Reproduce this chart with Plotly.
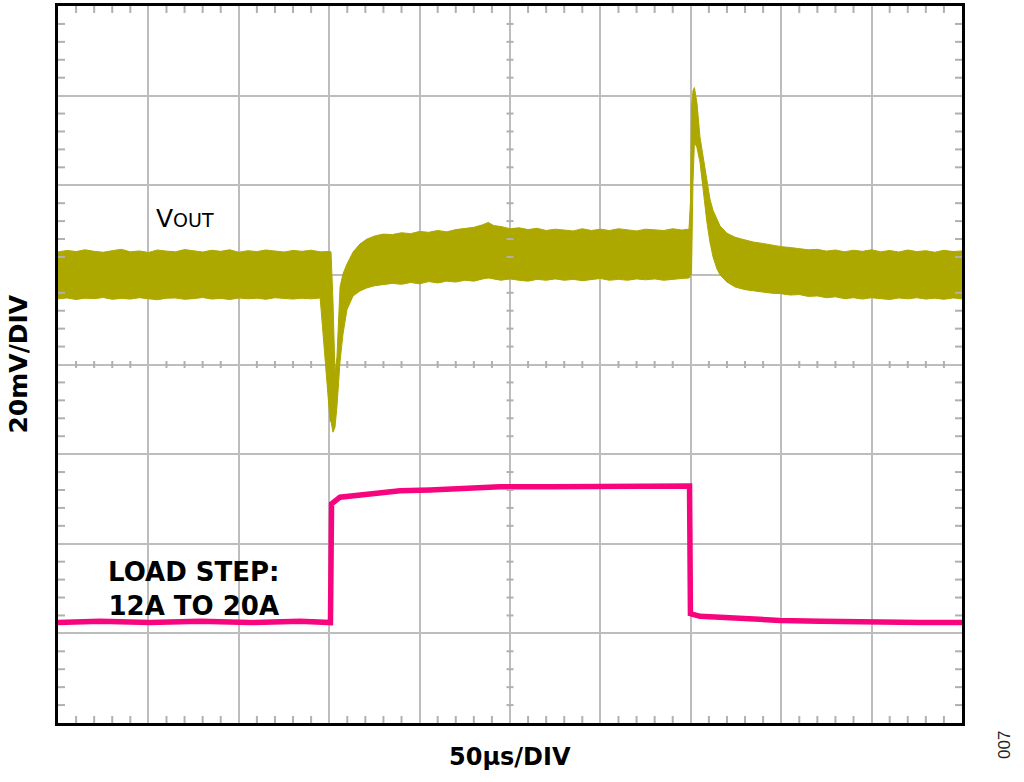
import plotly.graph_objects as go

# ---- data (time in µs, screen values in mV-equivalent; 20 mV/div, 50 µs/div) ----
time_us = [0, 5, 10, 15, 20, 25, 30, 35, 40, 45, 50, 55, 60, 65, 70, 75, 80, 85, 90, 95,
           100, 105, 110, 115, 120, 125, 130, 135, 140, 145, 150.5,
           151.0, 152.1, 153.2, 154.3, 156.0, 157.6, 159.8, 163.2, 167.0, 170.9, 175.3,
           180, 185, 190, 195, 200, 205, 210, 215, 220, 225, 230, 235, 238, 241, 245,
           250, 255, 260, 265, 270, 275, 280, 285, 290, 295, 300, 305, 310, 315, 320,
           325, 330, 335, 340, 345, 349.0, 349.8, 350.4, 351.2, 352.0, 353.4, 355.1,
           356.7, 358.9, 360.6, 362.3, 364.5, 366.2, 370.0, 374.5, 380, 385, 390, 395,
           400, 405, 410, 415, 420, 425, 430, 435, 440, 445, 450, 455, 460, 465, 470,
           475, 480, 485, 490, 495, 500]
vout_upper = [25.1, 25.45, 25.2, 25.6, 25.25, 25.05, 25.4, 25.7, 25.15, 25.35, 25.0, 25.55,
              25.3, 25.15, 25.65, 25.35, 25.1, 25.5, 25.25, 25.6, 25.05, 25.4, 25.2, 25.55,
              25.3, 25.1, 25.45, 25.25, 25.5, 25.15, 25.2,
              25.1, 14.0, -2.0, 1.8, 17.3, 20.2, 22.4, 25.1, 26.9, 28.0, 28.7,
              29.1, 29.0, 29.4, 29.2, 29.7, 29.5, 29.9, 29.6, 30.1, 30.3, 30.6, 31.2, 31.7,
              31.0, 30.8, 30.3, 30.5, 30.1, 30.4, 29.9, 30.2, 30.0, 29.8, 30.3, 29.9, 30.2,
              29.9, 30.3, 30.0, 29.8, 30.2, 30.1, 29.9, 30.3, 30.0, 30.2, 36.2, 57.3, 61.1,
              61.8, 58.4, 50.7, 46.9, 40.7, 36.9, 34.4, 32.2, 30.9, 29.3, 28.4, 27.8, 27.3,
              27.0, 26.6, 26.3, 26.1, 25.9, 25.6, 25.7, 25.3, 25.55, 25.15, 25.5, 25.25,
              25.6, 25.15, 25.45, 25.1, 25.55, 25.2, 25.4, 25.05, 25.5, 25.2, 25.35]
vout_lower = [14.65, 14.85, 14.5, 14.8, 14.7, 14.95, 14.55, 14.75, 14.6, 14.9, 14.65, 14.45,
              14.8, 14.85, 14.55, 14.7, 14.95, 14.6, 14.75, 14.5, 14.85, 14.65, 14.8, 14.55,
              14.9, 14.7, 14.6, 14.8, 14.65, 14.85, -12.7,
              -12.7, -15.1, -14.0, -9.3, 0.7, 6.7, 12.2, 15.3, 16.4, 17.1, 17.6,
              17.8, 18.1, 17.9, 18.3, 18.0, 18.5, 18.2, 18.6, 18.4, 18.8, 18.6, 19.1, 19.3,
              19.0, 18.8, 19.1, 18.8, 18.6, 19.0, 18.8, 19.1, 18.8, 19.0, 18.7, 18.9, 19.2,
              18.8, 19.0, 18.8, 19.1, 18.9, 19.1, 18.8, 19.0, 19.2, 19.3, 19.8, 20.2, 40.7,
              49.6, 48.4, 45.1, 39.6, 31.8, 27.3, 24.0, 21.3, 20.0, 18.4, 17.3, 16.7, 16.4,
              16.2, 15.9, 15.8, 15.5, 15.6, 15.2, 15.3, 14.9, 15.1, 14.7, 14.9, 14.6, 14.9,
              14.7, 14.5, 14.85, 14.65, 14.9, 14.6, 14.8, 14.55, 14.85, 14.65]

load_time_us = [0.0, 23.2, 50.9, 78.5, 106.2, 133.9, 150.7, 151.3, 156.0, 167.0, 178.1,
                189.2, 205.8, 222.3, 244.5, 272.1, 299.8, 327.4, 349.3, 349.8, 355.1,
                366.2, 382.7, 399.3, 421.5, 449.1, 476.8, 500.0]
load_screen = [-57.6, -57.3, -57.6, -57.3, -57.6, -57.3, -57.6, -31.1, -29.6, -29.1, -28.7,
               -28.2, -28.0, -27.6, -27.3, -27.3, -27.3, -27.1, -27.1, -55.6, -56.2,
               -56.4, -56.9, -57.1, -57.3, -57.6, -57.6, -57.6]

X_RANGE = [0, 500]
Y_RANGE = [-80, 80]
OLIVE = "#ADA800"
PINK = "#F7057F"
GRID = "#BDBDBD"
FONT = "DejaVu Sans, Liberation Sans, Arial, sans-serif"

fig = go.Figure()

# Vout noisy band as an envelope polygon
fig.add_trace(go.Scatter(
    x=time_us + time_us[::-1],
    y=vout_upper + vout_lower[::-1],
    fill="toself", fillcolor=OLIVE,
    line=dict(color=OLIVE, width=1),
    mode="lines", hoverinfo="skip", showlegend=False))

# Load step
fig.add_trace(go.Scatter(
    x=load_time_us, y=load_screen, mode="lines",
    line=dict(color=PINK, width=5.5), hoverinfo="skip", showlegend=False))

# Minor tick marks (borders inward, center axes crossing)
px_per_us = 904 / 500
px_per_mv = 720 / 160
tl_x = 7 / px_per_us
tl_y = 7 / px_per_mv
shapes = []
tick_style = dict(color="#B0B0B0", width=2)
for t in range(10, 500, 10):
    if t % 50 == 0:
        continue
    shapes.append(dict(type="line", xref="x", yref="y", x0=t, x1=t, y0=Y_RANGE[0], y1=Y_RANGE[0] + tl_y, line=tick_style))
    shapes.append(dict(type="line", xref="x", yref="y", x0=t, x1=t, y0=Y_RANGE[1], y1=Y_RANGE[1] - tl_y, line=tick_style))
    shapes.append(dict(type="line", xref="x", yref="y", x0=t, x1=t, y0=-tl_y / 2, y1=tl_y / 2, line=tick_style))
for v in range(-76, 80, 4):
    if v % 20 == 0:
        continue
    shapes.append(dict(type="line", xref="x", yref="y", y0=v, y1=v, x0=X_RANGE[0], x1=X_RANGE[0] + tl_x, line=tick_style))
    shapes.append(dict(type="line", xref="x", yref="y", y0=v, y1=v, x0=X_RANGE[1], x1=X_RANGE[1] - tl_x, line=tick_style))
    shapes.append(dict(type="line", xref="x", yref="y", y0=v, y1=v, x0=250 - tl_x / 2, x1=250 + tl_x / 2, line=tick_style))

annotations = [
    dict(x=53.0, y=32.5, xref="x", yref="y",
         text="V<span style='font-size:19px'>OUT</span>", showarrow=False,
         xanchor="left", yanchor="middle", font=dict(family=FONT, size=25, color="black")),
    dict(x=75.0, y=-50.2, xref="x", yref="y", text="<b>LOAD STEP:<br>12A TO 20A</b>",
         showarrow=False, xanchor="center", yanchor="middle", align="center",
         font=dict(family=FONT, size=26, color="black")),
    dict(x=0.5, y=-0.047, xref="paper", yref="paper", text="<b>50µs/DIV</b>", showarrow=False,
         xanchor="center", yanchor="middle", font=dict(family=FONT, size=24, color="black")),
    dict(x=-0.0442, y=0.5, xref="paper", yref="paper", text="<b>20mV/DIV</b>", showarrow=False,
         textangle=-90, xanchor="center", yanchor="middle",
         font=dict(family=FONT, size=25, color="black")),
    dict(x=1.0476, y=-0.0306, xref="paper", yref="paper", text="007", showarrow=False,
         textangle=-90, xanchor="center", yanchor="middle",
         font=dict(family="Liberation Sans, Arial, sans-serif", size=17, color="#222222")),
]

axis_common = dict(showgrid=True, gridcolor=GRID, gridwidth=2, zeroline=False,
                   showticklabels=False, ticks="", showline=True, linecolor="black",
                   linewidth=3, mirror=True, fixedrange=True)

fig.update_layout(
    width=1024, height=782,
    margin=dict(l=58, r=62, t=3, b=59),
    paper_bgcolor="white", plot_bgcolor="white",
    xaxis=dict(range=X_RANGE, dtick=50, tick0=0, **axis_common),
    yaxis=dict(range=Y_RANGE, dtick=20, tick0=0, **axis_common),
    shapes=shapes, annotations=annotations, showlegend=False,
)

fig.write_html("out.html", config={"displayModeBar": False},
               post_script="document.body.style.margin='0px';")
